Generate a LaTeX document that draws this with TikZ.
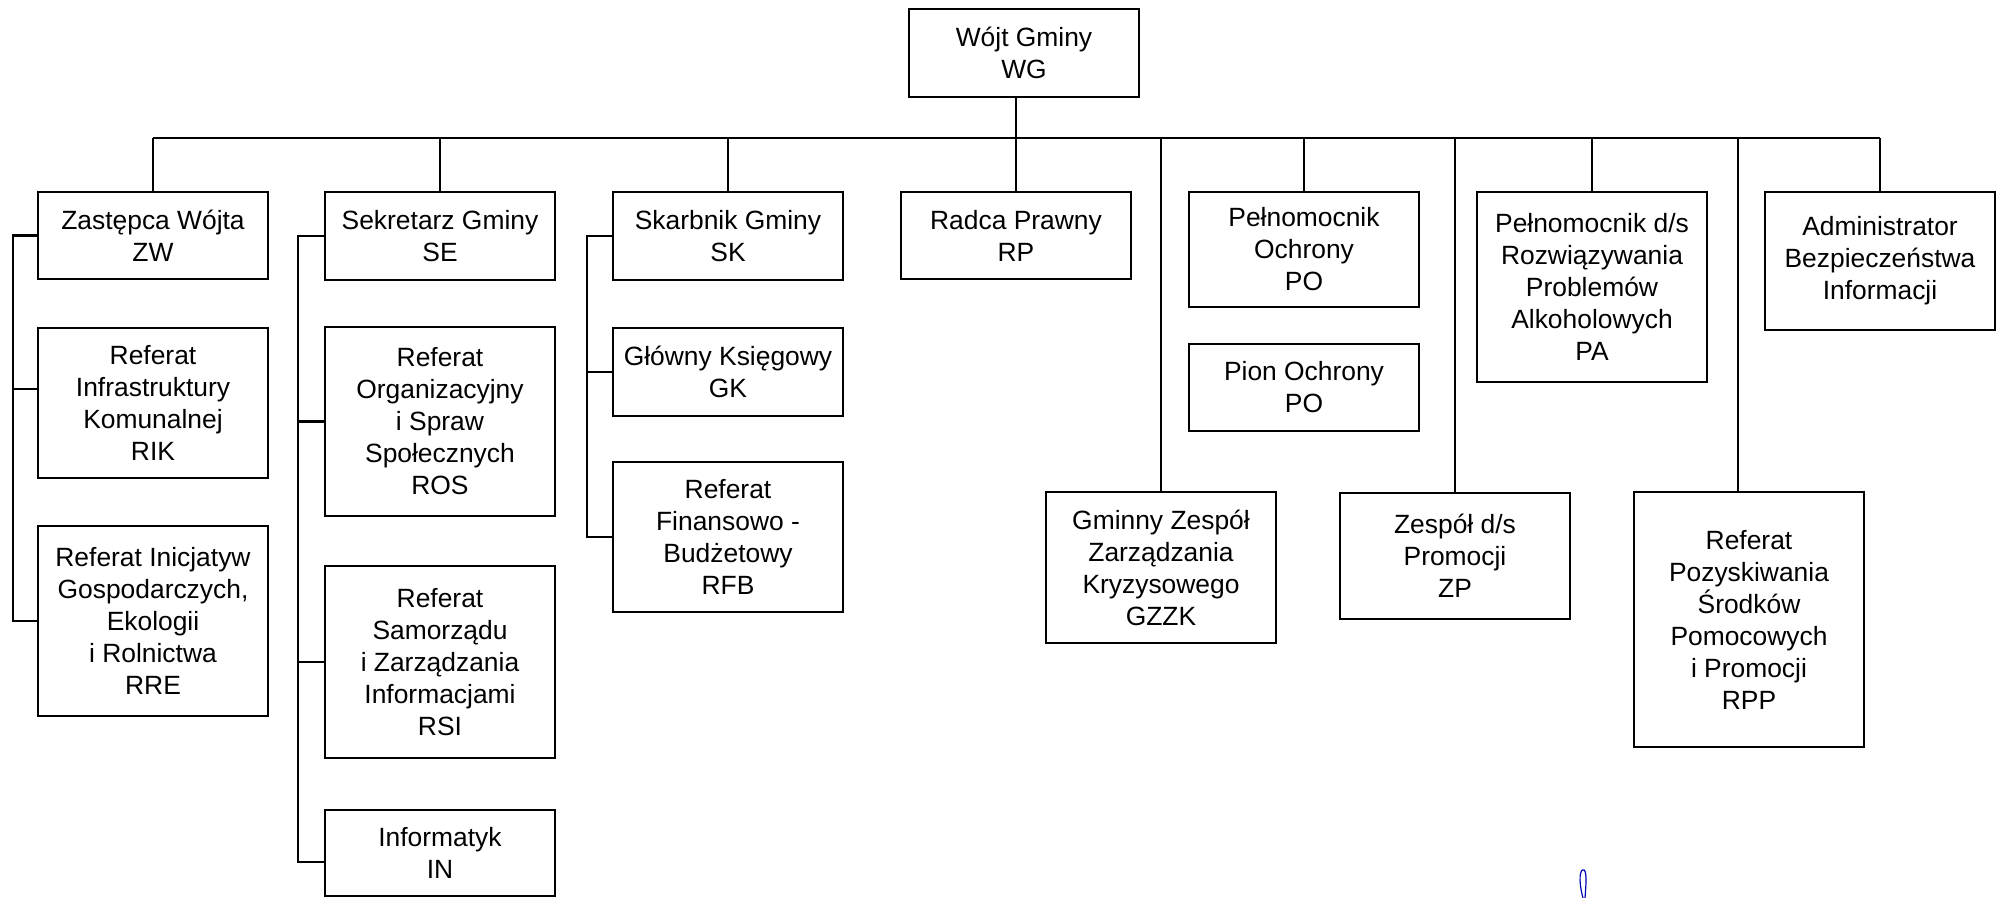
\documentclass[tikz,border=0pt]{standalone}
\usepackage{fontspec}
\setmainfont{Liberation Sans}
\usetikzlibrary{positioning}
\tikzstyle{unit}=[rectangle, draw=black, line width=1.4pt, minimum width=115pt, inner sep=0pt, outer sep=0pt, align=center, font=\fontsize{13.2}{16}\selectfont]
\tikzstyle{link}=[line width=1.4pt]

\begin{document}
\begin{tikzpicture}[x=0.5pt, y=-0.5pt]
            \useasboundingbox (0,0) rectangle (1998,898);
            % head
            \node[unit, minimum height=44pt, anchor=north](WG) at (1024,9) {Wójt Gminy\\WG};
            \coordinate (bus) at (0,138);
            % first row
            \node[unit, minimum height=43.5pt, anchor=north](ZW) at (153,192) {Zastępca Wójta\\ZW};
            \node[unit, minimum height=44pt, below right=0pt and 28.5pt of ZW.north east](SE) {Sekretarz Gminy\\SE};
            \node[unit, minimum height=44pt, below right=0pt and 29pt of SE.north east](SK) {Skarbnik Gminy\\SK};
            \node[unit, minimum height=43.5pt, below right=0pt and 29pt of SK.north east](RP) {Radca Prawny\\RP};
            \node[unit, minimum height=57.5pt, below right=0pt and 29pt of RP.north east](PO) {Pełnomocnik\\Ochrony\\PO};
            \node[unit, minimum height=95pt, below right=0pt and 29pt of PO.north east](PA) {Pełnomocnik d/s\\Rozwiązywania\\Problemów\\Alkoholowych\\PA};
            \node[unit, minimum height=69pt, below right=0pt and 29pt of PA.north east](ABI) {Administrator\\Bezpieczeństwa\\Informacji};
            % deputy
            \node[unit, minimum height=75pt, below=24.5pt of ZW](RIK) {Referat\\Infrastruktury\\Komunalnej\\RIK};
            \node[unit, minimum height=95pt, below=24pt of RIK](RRE) {Referat Inicjatyw\\Gospodarczych,\\Ekologii\\i Rolnictwa\\RRE};
            % secretary
            \node[unit, minimum height=94.5pt, below=23.5pt of SE](ROS) {Referat\\Organizacyjny\\i Spraw\\Społecznych\\ROS};
            \node[unit, minimum height=96pt, below=25pt of ROS](RSI) {Referat\\Samorządu\\i Zarządzania\\Informacjami\\RSI};
            \node[unit, minimum height=43pt, below=26pt of RSI](IN) {Informatyk\\IN};
            % treasurer
            \node[unit, minimum height=44pt, below=24pt of SK](GK) {Główny Księgowy\\GK};
            \node[unit, minimum height=75pt, below=23pt of GK](RFB) {Referat\\Finansowo -\\Budżetowy\\RFB};
            % protection
            \node[unit, minimum height=43.5pt, below=18.5pt of PO](PION) {Pion Ochrony\\PO};
            % lower row
            \node[unit, minimum height=75.5pt, anchor=north](GZZK) at (1161,492) {Gminny Zespół\\Zarządzania\\Kryzysowego\\GZZK};
            \node[unit, minimum height=63pt, anchor=north](ZP) at (1455,493) {Zespół d/s\\Promocji\\ZP};
            \node[unit, minimum height=127.5pt, anchor=north](RPP) at (1749,492) {Referat\\Pozyskiwania\\Środków\\Pomocowych\\i Promocji\\RPP};

            % main bus
            \draw[link] (RP.north) -- (RP.north |- WG.south);
            \draw[link] (ZW.north |- bus) -- (ABI.north |- bus);
            \foreach \n in {ZW,SE,SK,PO,PA,ABI,GZZK,ZP}{
                \draw[link] (\n.north) -- (\n.north |- bus);
            }
            \draw[link] ([xshift=-5.5pt]RPP.north) -- ([xshift=-5.5pt]RPP.north |- bus);
            % brackets
            \draw[link] (ZW.west) -- ++(-12.5pt,0) |- (RRE.west);
            \draw[link] ([yshift=7pt]RIK.west) -- ++(-12.5pt,0);
            \draw[link] (SE.west) -- ++(-13.5pt,0) |- ([yshift=-4.5pt]IN.west);
            \foreach \n in {ROS,RSI}{
                \draw[link] (\n.west) -- ++(-13.5pt,0);
            }
            \draw[link] (SK.west) -- ++(-13pt,0) |- (RFB.west);
            \draw[link] (GK.west) -- ++(-13pt,0);
            % pen mark
            \draw[blue!70!black, line width=0.6pt] (1583,898) .. controls (1578,880) and (1580,868) .. (1584,870) .. controls (1587,872) and (1586,885) .. (1585,898);
        \end{tikzpicture}
\end{document}
